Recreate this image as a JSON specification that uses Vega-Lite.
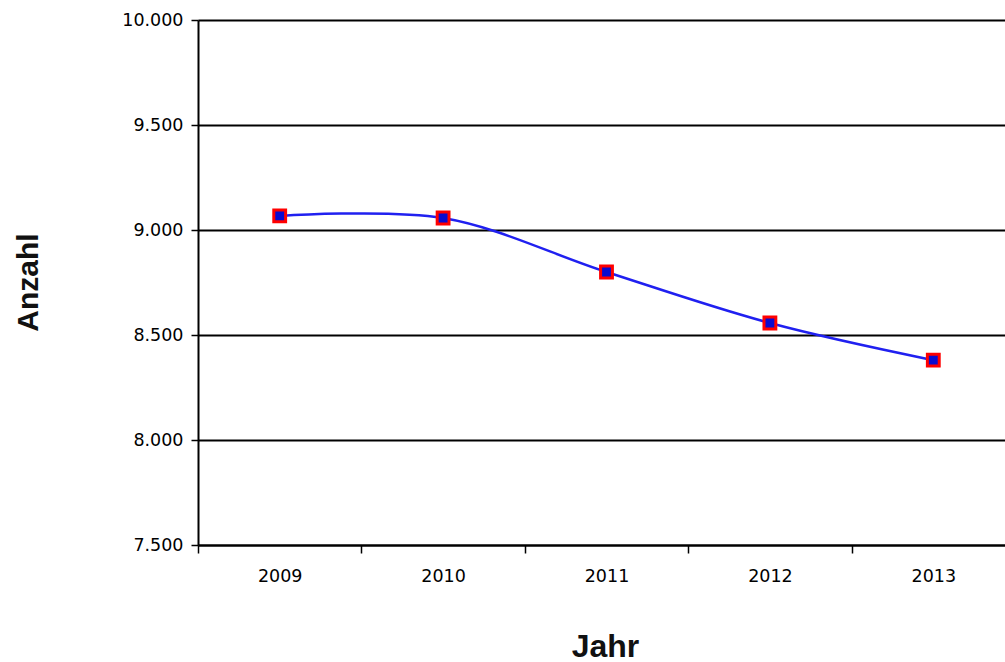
{
  "$schema": "https://vega.github.io/schema/vega-lite/v6.json",
  "width": 807,
  "height": 525,
  "autosize": "none",
  "padding": {"left": 198, "top": 20, "right": 0, "bottom": 117},
  "background": "white",
  "data": {"values": [
    {"Jahr": "2009", "Anzahl": 9067},
    {"Jahr": "2010", "Anzahl": 9057},
    {"Jahr": "2011", "Anzahl": 8800},
    {"Jahr": "2012", "Anzahl": 8557},
    {"Jahr": "2013", "Anzahl": 8380}
  ]},
  "encoding": {
    "x": {"field": "Jahr", "type": "ordinal", "title": "Jahr",
      "scale": {"type": "band", "range": [0, 817], "paddingInner": 0, "paddingOuter": 0},
      "axis": {"labelAngle": 0, "tickBand": "extent", "domainColor": "black", "domainWidth": 2, "tickColor": "black", "tickWidth": 1.5, "tickSize": 8,
        "labelFont": "DejaVu Sans", "labelFontSize": 17.5, "labelColor": "#000", "labelPadding": 14,
        "titleFont": "Liberation Sans", "titleFontSize": 32, "titleFontWeight": "bold", "titleColor": "#111", "titleY": 101, "titleX": 407, "titleBaseline": "middle"}},
    "y": {"field": "Anzahl", "type": "quantitative", "title": "Anzahl",
      "scale": {"domain": [7500, 10000], "nice": false, "zero": false},
      "axis": {"values": [7500, 8000, 8500, 9000, 9500, 10000], "grid": true, "gridColor": "black", "gridWidth": 2, "gridOpacity": 1,
        "domainColor": "black", "domainWidth": 2, "tickColor": "black", "tickWidth": 1.5, "tickSize": 7,
        "labelExpr": "replace(format(datum.value, ',d'), ',', '.')",
        "labelFont": "DejaVu Sans", "labelFontSize": 17.5, "labelColor": "#000", "labelPadding": 8,
        "titleFont": "Liberation Sans", "titleFontSize": 30, "titleFontWeight": "bold", "titleColor": "#111", "titleX": -170, "titleY": 262, "titleBaseline": "middle", "titleAngle": -90}}
  },
  "layer": [
    {"mark": {"type": "line", "interpolate": "catmull-rom", "color": "#2020f0", "strokeWidth": 2.5}},
    {"mark": {"type": "point", "shape": "square", "filled": true, "fill": "#0a0ad0", "stroke": "#ff0000", "strokeWidth": 3, "size": 140, "opacity": 1}}
  ],
  "config": {"view": {"stroke": null}}
}
